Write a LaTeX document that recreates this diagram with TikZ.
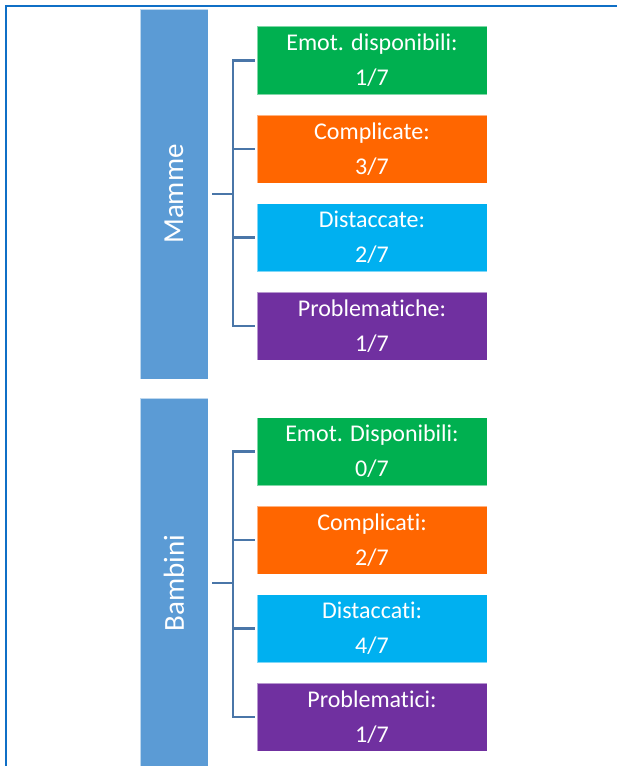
\documentclass[tikz,border=0pt]{standalone}
\usepackage{fontspec}
\setmainfont[Ligatures=NoCommon]{Carlito}
\begin{document}
\begin{tikzpicture}[x=1bp,y=-1bp,
  framecol/.style={draw={rgb,255:red,15;green,111;blue,198}, line width=2.4bp},
  bar/.style={rectangle, fill={rgb,255:red,91;green,155;blue,213},
    draw=white, draw opacity=0.6, line width=0.8bp,
    minimum width=68bp, minimum height=370bp, inner sep=0pt,
    text=white, font=\fontsize{29bp}{34bp}\selectfont},
  item/.style={rectangle, draw=white, draw opacity=0.5, line width=0.8bp,
    minimum width=230bp, minimum height=68bp, inner sep=0pt,
    align=center, text=white, font=\fontsize{24bp}{35bp}\selectfont},
  conn/.style={draw={rgb,255:red,74;green,118;blue,168}, line width=2.4bp},
  cgreen/.style={fill={rgb,255:red,0;green,176;blue,80}},
  corange/.style={fill={rgb,255:red,255;green,102;blue,0}},
  ccyan/.style={fill={rgb,255:red,0;green,176;blue,240}},
  cpurple/.style={fill={rgb,255:red,112;green,48;blue,160}}]
\useasboundingbox (0,0) rectangle (617,766);
\fill[white] (0,0) rectangle (617,766);

% outer frame (top and left edges)
\draw[framecol] (6,770) -- (6,6) -- (620,6);

% group bars
\node[bar] (mamme) at (174,194) {\rotatebox{90}{Mamme}};
\node[bar] (bambini) at (174,583) {\rotatebox{90}{Bambini}};

% mothers
\node[item, cgreen]  (m1) at (372,60.5)  {Emot. disponibili:\\1/7};
\node[item, corange] (m2) at (372,149)   {Complicate:\\3/7};
\node[item, ccyan]   (m3) at (372,237.5) {Distaccate:\\2/7};
\node[item, cpurple] (m4) at (372,326)   {Problematiche:\\1/7};

% children
\node[item, cgreen]  (b1) at (372,451.5) {Emot. Disponibili:\\0/7};
\node[item, corange] (b2) at (372,540)   {Complicati:\\2/7};
\node[item, ccyan]   (b3) at (372,628.5) {Distaccati:\\4/7};
\node[item, cpurple] (b4) at (372,717)   {Problematici:\\1/7};

% tree junctions
\coordinate (mj) at (233,194);
\coordinate (bj) at (233,583);

\draw[conn, shorten <=4bp] (mamme.east) -- (mj);
\foreach \n in {m1,m2,m3,m4}
  \draw[conn, shorten <=2bp] (\n.west) -| (mj);

\draw[conn, shorten <=4bp] (bambini.east) -- (bj);
\foreach \n in {b1,b2,b3,b4}
  \draw[conn, shorten <=2bp] (\n.west) -| (bj);
\end{tikzpicture}
\end{document}
